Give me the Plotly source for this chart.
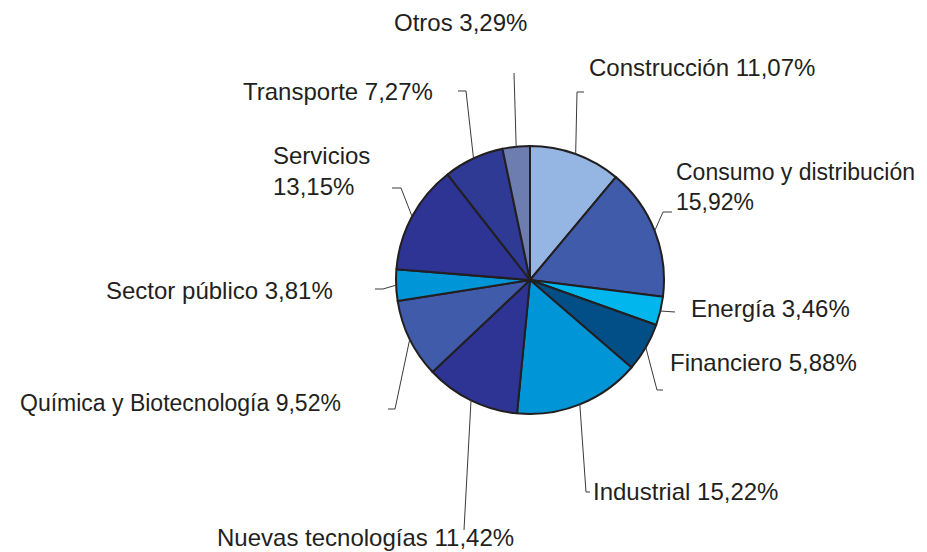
"""Distribución por sector — pie chart with elbow leader lines."""

import math
import plotly.graph_objects as go

W, H = 927, 552
OFF = 8  # page body margin the figure sits inside

sectors = [
    "Construcción", "Consumo y distribución", "Energía", "Financiero",
    "Industrial", "Nuevas tecnologías", "Química y Biotecnología",
    "Sector público", "Servicios", "Transporte", "Otros",
]
shares = [11.07, 15.92, 3.46, 5.88, 15.22, 11.42, 9.52, 3.81, 13.15, 7.27, 3.29]
label_texts = [
    "Construcción 11,07%", "Consumo y distribución<br>15,92%", "Energía 3,46%",
    "Financiero 5,88%", "Industrial 15,22%", "Nuevas tecnologías 11,42%",
    "Química y Biotecnología 9,52%", "Sector público 3,81%",
    "Servicios<br>13,15%", "Transporte 7,27%", "Otros 3,29%",
]

colors = ["#95B6E2", "#3F5BAA", "#00B6EC", "#024E87", "#0095D6", "#2E3494",
          "#3F5BAA", "#0095D6", "#2E3494", "#2E3A94", "#6D7DB0"]

# pie placement in screen pixels
CX, CY, R = 530, 280, 134

# label layout: (anchor x, anchor y, xanchor, font size, elbow points after the pie edge)
label_layout = [
    (587, 67, "left", 24, [(577, 92), (584, 92)]),
    (674, 187, "left", 23, [(663, 212), (672, 212)]),
    (689, 308, "left", 24, [(675, 312)]),
    (668, 362, "left", 24, [(657, 390), (663, 390)]),
    (591, 491, "left", 24, [(586, 492), (590, 492)]),
    (215, 537, "left", 24, [(464, 530)]),
    (343, 403, "right", 23, [(395, 409), (388, 409)]),
    (335, 290, "right", 24, [(383, 289), (375, 289)]),
    (271, 171, "left", 24, [(401, 188), (392, 188)]),
    (241, 91, "left", 24, [(466, 91), (458, 91)]),
    (392, 22, "left", 24, [(514, 73)]),
]


def px(x):
    return (x - OFF) / W


def py(y):
    return 1 - (y - OFF) / H


fig = go.Figure(go.Pie(
    labels=sectors,
    values=shares,
    sort=False,
    direction="clockwise",
    rotation=0,
    textinfo="none",
    hoverinfo="skip",
    marker=dict(colors=colors, line=dict(color="#231F20", width=2)),
    domain=dict(x=[px(CX - R), px(CX + R)], y=[py(CY + R), py(CY - R)]),
    showlegend=False,
))

total = sum(shares)
cum = 0.0
for val, text, (lx, ly, anchor, size, elbow) in zip(shares, label_texts, label_layout):
    mid = (cum + val / 2) / total * 2 * math.pi
    cum += val
    sx, sy = CX + R * math.sin(mid), CY - R * math.cos(mid)
    pts = [(sx, sy)] + elbow
    path = "M " + " L ".join(f"{px(x):.5f},{py(y):.5f}" for x, y in pts)
    fig.add_shape(type="path", path=path, xref="paper", yref="paper",
                  line=dict(color="#3A3A3A", width=1))
    fig.add_annotation(x=px(lx), y=py(ly), xref="paper", yref="paper",
                       text=text, showarrow=False, xanchor=anchor,
                       yanchor="middle", align="left",
                       font=dict(family="Liberation Sans, Arial, sans-serif",
                                 size=size, color="#231F20"))

fig.update_layout(
    width=W, height=H,
    margin=dict(l=0, r=0, t=0, b=0),
    paper_bgcolor="white",
    plot_bgcolor="white",
)

fig.write_html("out.html")
